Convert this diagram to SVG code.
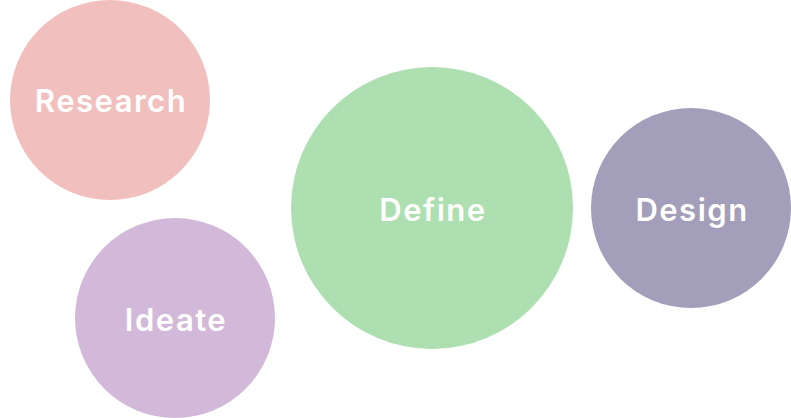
<svg xmlns="http://www.w3.org/2000/svg" width="791" height="418" viewBox="0 0 791 418">
<style>
.lbl{font-family:Inter,"Noto Sans",sans-serif;font-weight:600;font-size:31px;fill:#ffffff;text-anchor:middle;letter-spacing:1.5px}
</style>
<rect width="791" height="418" fill="#ffffff"/>
<g id="connectors"></g>
<g id="research"><circle cx="110" cy="100" r="100" fill="#F2BFBF"/><text class="lbl" x="111" y="112">Research</text></g>
<g id="ideate"><circle cx="175" cy="318" r="100" fill="#D3B9D9"/><text class="lbl" x="176" y="331">Ideate</text></g>
<g id="define"><circle cx="432" cy="208" r="141" fill="#ADDFB1"/><text class="lbl" x="433" y="221">Define</text></g>
<g id="design"><circle cx="691" cy="208" r="100" fill="#A39EB9"/><text class="lbl" x="692" y="221">Design</text></g>
</svg>
